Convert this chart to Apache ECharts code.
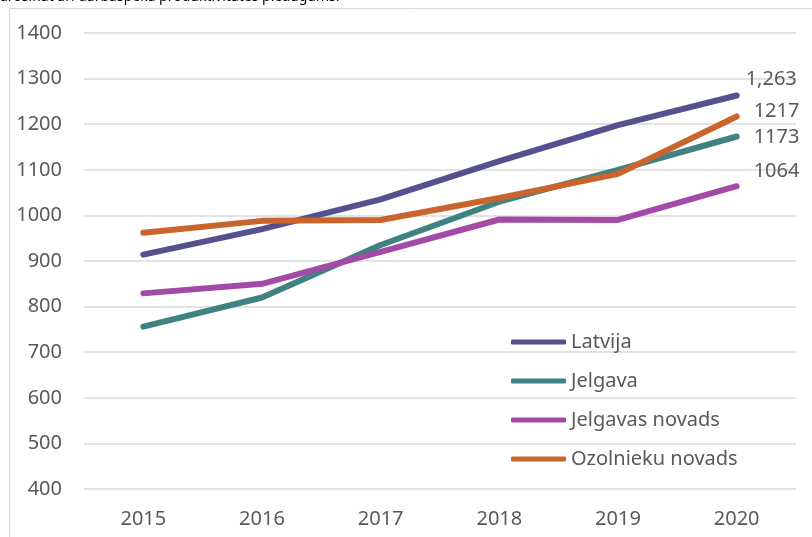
<!DOCTYPE html>
<html>
<head>
<meta charset="utf-8">
<script src="https://cdn.jsdelivr.net/npm/echarts@6/dist/echarts.min.js"></script>
<style>
  html, body { margin: 0; padding: 0; background: #fff; }
  #chart { width: 812px; height: 537px; }
</style>
</head>
<body>
<div id="chart"></div>
<script>
// gadi un vērtības
var years = ['2015', '2016', '2017', '2018', '2019', '2020'];
var latvija = [914, 970, 1035, 1119, 1198, 1263];
var jelgava = [756, 820, 935, 1030, 1100, 1173];
var jelgavasNovads = [829, 850, 920, 991, 990, 1064];
var ozolniekuNovads = [962, 988, 990, 1038, 1091, 1217];
var topText = 'arosināt arī darbaspēka produktivitātes pieaugums.';

var font = '"Noto Sans", "Open Sans", sans-serif';
var textColor = '#595959';

function lineSeries(name, data, color, offset, fmt) {
    return {
        name: name,
        type: 'line',
        data: data,
        symbol: 'none',
        showSymbol: false,
        lineStyle: { color: color, width: 6, cap: 'round', join: 'round' },
        itemStyle: { color: color },
        emphasis: { disabled: true },
        // uzraksts tikai pie pēdējā punkta
        endLabel: {
            show: true,
            distance: 5,
            offset: offset,
            fontSize: 20,
            fontFamily: font,
            color: textColor,
            formatter: fmt
        }
    };
}

var myChart = echarts.init(document.getElementById('chart'));
var options = {
    animation: false,
    textStyle: { fontFamily: font },
    graphic: [
        {
            type: 'rect',
            shape: { x: 9.5, y: 8.5, width: 820, height: 560 },
            style: { fill: 'none', stroke: '#d9d9d9', lineWidth: 1 },
            z: -1
        },
        {
            type: 'text',
            left: 0,
            top: -10,
            style: { text: topText, font: '14px "Liberation Sans Narrow", ' + font, fill: '#000' }
        }
    ],
    grid: { left: 84, right: 16, top: 33, bottom: 48 },
    legend: {
        orient: 'vertical',
        left: 511,
        top: 332,
        padding: 0,
        itemWidth: 55,
        itemHeight: 5,
        itemGap: 19,
        icon: 'roundRect',
        textStyle: { fontSize: 20, color: textColor, fontFamily: font },
        data: ['Latvija', 'Jelgava', 'Jelgavas novads', 'Ozolnieku novads']
    },
    xAxis: {
        type: 'category',
        data: years,
        boundaryGap: true,
        axisLine: { show: false },
        axisTick: { show: false },
        axisLabel: { fontSize: 20, color: textColor, margin: 20 }
    },
    yAxis: {
        type: 'value',
        min: 400,
        max: 1400,
        interval: 100,
        axisLine: { show: false },
        axisTick: { show: false },
        axisLabel: {
            fontSize: 20, color: textColor, margin: 22, align: 'right',
            formatter: function (v) { return String(v); }
        },
        splitLine: { lineStyle: { color: '#d9d9d9', width: 1.5 } }
    },
    series: [
        lineSeries('Latvija', latvija, '#55508e', [4, -16], function (p) { return p.value.toLocaleString('en-US'); }),
        lineSeries('Jelgava', jelgava, '#3f8282', [12, 1], function (p) { return String(p.value); }),
        lineSeries('Jelgavas novads', jelgavasNovads, '#a24aa5', [12, -15], function (p) { return String(p.value); }),
        lineSeries('Ozolnieku novads', ozolniekuNovads, '#c8642c', [12, -5], function (p) { return String(p.value); })
    ]
};
myChart.setOption(options);
window.addEventListener('resize', function () { myChart.resize(); });
</script>
</body>
</html>
